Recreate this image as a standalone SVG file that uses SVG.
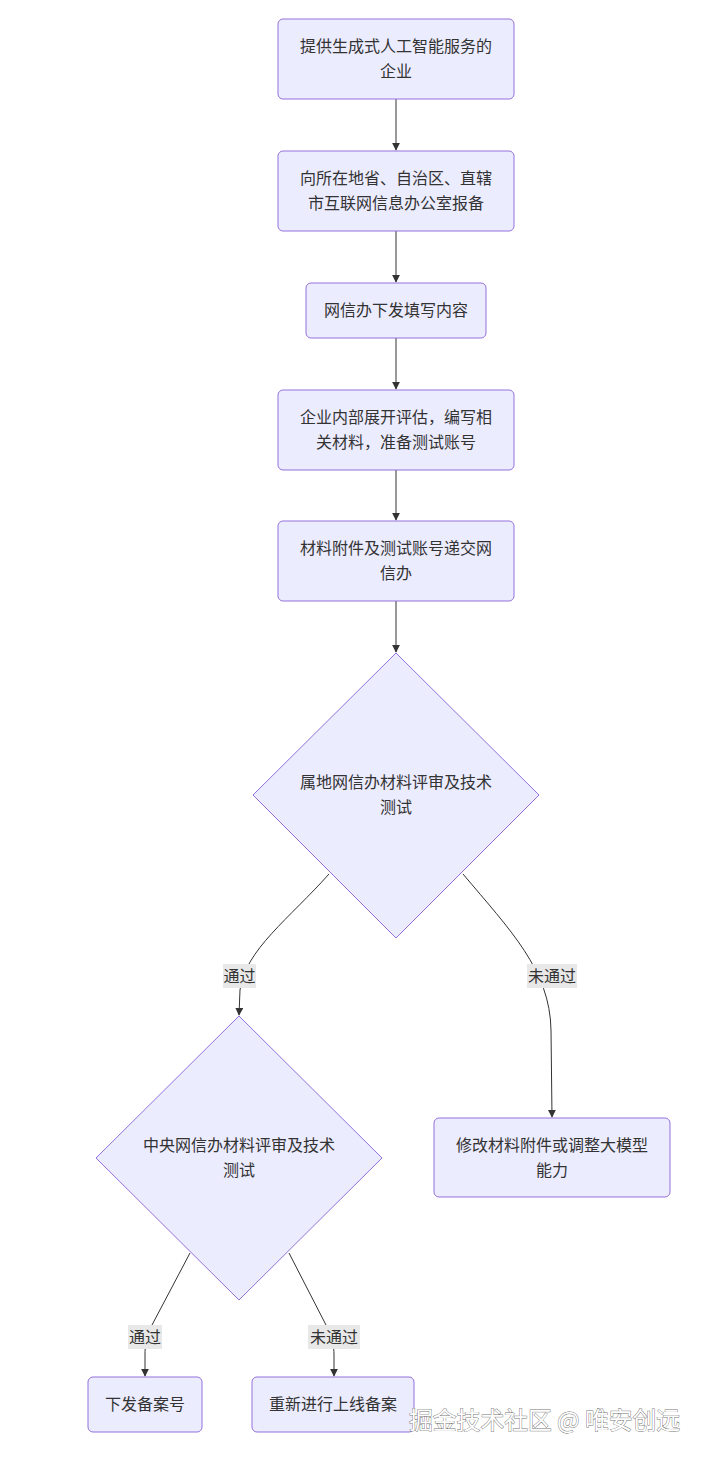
<svg xmlns="http://www.w3.org/2000/svg" width="704" height="1458" viewBox="0 0 704 1458">
<defs>
<style>
.node rect, .node polygon { fill: #ECECFF; stroke: #9370DB; stroke-width: 1; }
.t { font-family: "Noto Sans CJK SC", "Liberation Sans", sans-serif; font-size: 16px; fill: #333; text-anchor: middle; }
.edge { fill: none; stroke: #333; stroke-width: 1; }
.lbl rect { fill: #e8e8e8; }
.wm { font-family: "Noto Sans CJK SC", sans-serif; font-size: 23.8px; fill: #fff; stroke: #777; stroke-width: 0.9; paint-order: stroke; }
</style>
<marker id="arr" viewBox="0 0 10 10" refX="9" refY="5" markerWidth="8" markerHeight="8" orient="auto" markerUnits="userSpaceOnUse">
<path d="M0,0 L10,5 L0,10 z" fill="#333"/>
</marker>
</defs>
<rect width="704" height="1458" fill="#fff"/>
<g id="connectors">
<path class="edge" d="M396,99 L396,150" marker-end="url(#arr)"/>
<path class="edge" d="M396,231 L396,282" marker-end="url(#arr)"/>
<path class="edge" d="M396,338 L396,389" marker-end="url(#arr)"/>
<path class="edge" d="M396,470 L396,520" marker-end="url(#arr)"/>
<path class="edge" d="M396,601 L396,652" marker-end="url(#arr)"/>
<path class="edge" d="M329,874 C290,918 245,950 240,990 L239,1015" marker-end="url(#arr)"/>
<path class="edge" d="M463,874 C510,930 550,970 551,1030 L552,1117" marker-end="url(#arr)"/>
<path class="edge" d="M190,1253 L152,1325 C146,1336 145,1345 145,1355 L145,1376" marker-end="url(#arr)"/>
<path class="edge" d="M289,1253 L326,1325 C332,1336 334,1345 334,1355 L334,1376" marker-end="url(#arr)"/>
</g>
<g id="labels">
<g class="lbl"><rect x="223" y="964" width="33" height="24"/><text class="t" x="239.5" y="982">通过</text></g>
<g class="lbl"><rect x="527" y="964" width="50" height="24"/><text class="t" x="552" y="982">未通过</text></g>
<g class="lbl"><rect x="128" y="1325" width="34" height="24"/><text class="t" x="145" y="1343">通过</text></g>
<g class="lbl"><rect x="308" y="1325" width="52" height="24"/><text class="t" x="334" y="1343">未通过</text></g>
</g>
<g id="n1" class="node"><rect x="278" y="19" width="236" height="80" rx="5"/><text class="t" x="396" y="52">提供生成式人工智能服务的</text><text class="t" x="396" y="77">企业</text></g>
<g id="n2" class="node"><rect x="278" y="151" width="236" height="80" rx="5"/><text class="t" x="396" y="184">向所在地省、自治区、直辖</text><text class="t" x="396" y="209">市互联网信息办公室报备</text></g>
<g id="n3" class="node"><rect x="306" y="283" width="180" height="55" rx="5"/><text class="t" x="396" y="316">网信办下发填写内容</text></g>
<g id="n4" class="node"><rect x="278" y="390" width="236" height="80" rx="5"/><text class="t" x="396" y="423">企业内部展开评估，编写相</text><text class="t" x="396" y="448">关材料，准备测试账号</text></g>
<g id="n5" class="node"><rect x="278" y="521" width="236" height="80" rx="5"/><text class="t" x="396" y="554">材料附件及测试账号递交网</text><text class="t" x="396" y="579">信办</text></g>
<g id="d1" class="node"><polygon points="396,653 539,795 396,938 253,795"/><text class="t" x="396" y="788">属地网信办材料评审及技术</text><text class="t" x="396" y="813">测试</text></g>
<g id="d2" class="node"><polygon points="239,1016 382,1158 239,1300 96,1158"/><text class="t" x="239" y="1151">中央网信办材料评审及技术</text><text class="t" x="239" y="1176">测试</text></g>
<g id="n6" class="node"><rect x="434" y="1118" width="236" height="79" rx="5"/><text class="t" x="552" y="1151">修改材料附件或调整大模型</text><text class="t" x="552" y="1176">能力</text></g>
<g id="n7" class="node"><rect x="88" y="1377" width="114" height="55" rx="5"/><text class="t" x="145" y="1410">下发备案号</text></g>
<g id="n8" class="node"><rect x="252" y="1377" width="162" height="55" rx="5"/><text class="t" x="333" y="1410">重新进行上线备案</text></g>
<text class="wm" x="409" y="1429">掘金技术社区 @ 唯安创远</text>
</svg>
